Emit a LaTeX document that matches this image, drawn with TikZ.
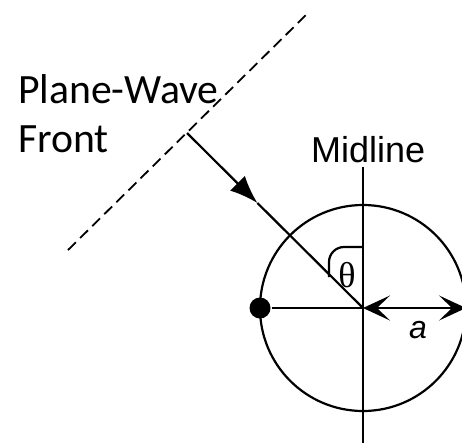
\documentclass[tikz,border=0pt]{standalone}
\usepackage{fontspec}
\newfontfamily\labelfont{Carlito}
\newfontfamily\helvfont{Liberation Sans}
\newfontfamily\greekfont{Liberation Serif}
\usetikzlibrary{arrows.meta,calc}

\tikzset{
  lbl/.style={inner sep=0pt, anchor=base west},
  wavefront/.style={line width=1.8pt, dash pattern=on 11pt off 6pt},
  ray/.style={line width=2.2pt}
}

\begin{document}
\begin{tikzpicture}[x=1pt, y=-1pt, line width=2.2pt]
    \useasboundingbox (0,0) rectangle (462,442);
    % ring and centre
    \coordinate (O) at (363,308);
    \node[draw, circle, inner sep=0pt, outer sep=0pt, minimum size=206pt] (ring) at (O) {};
    \node[fill, circle, inner sep=0pt, minimum size=21pt] (D) at (ring.west) {};
    \draw (D) -- (O);
    \draw[{Stealth[length=27pt,width=25pt,inset=13pt]}-{Stealth[length=27pt,width=25pt,inset=13pt]}]
    (O) -- (ring.east);
    \node[lbl] (a) at (408,338) {\helvfont\itshape\fontsize{32}{36}\selectfont a};
    % midline
    \node[lbl] (mid) at (310,162) {\helvfont\fontsize{36}{40}\selectfont Midline};
    \coordinate (mtop) at (363,167); \coordinate (mbot) at (363,450);
    \draw (mtop) -- (mbot);
    % wave front and ray
    \coordinate (W1) at (68,250); \coordinate (W2) at (308,13);
    \coordinate (S) at (187,133);
    \draw[wavefront] (W1) -- (W2);
    \draw[ray, -{Latex[length=28pt,width=21pt]}] (S) -- ($(S)!0.4!(O)$) coordinate (T);
    \draw[ray] (T) -- (O);
    \node[lbl] (pw) at (17,103) {\labelfont\fontsize{41.7}{50}\selectfont Plane-Wave};
    \node[lbl] (fr) at (17,152) {\labelfont\fontsize{41.7}{50}\selectfont Front};
    % angle
    \coordinate (q1) at (363,247); \coordinate (q2) at (329,247); \coordinate (q3) at (329,277);
    \draw[rounded corners=15pt] (q1) -- (q2) -- (q3);
    \node[inner sep=0pt, anchor=base] (th) at (347,287) {\greekfont\fontsize{36}{40}\selectfont θ};
\end{tikzpicture}
\end{document}
